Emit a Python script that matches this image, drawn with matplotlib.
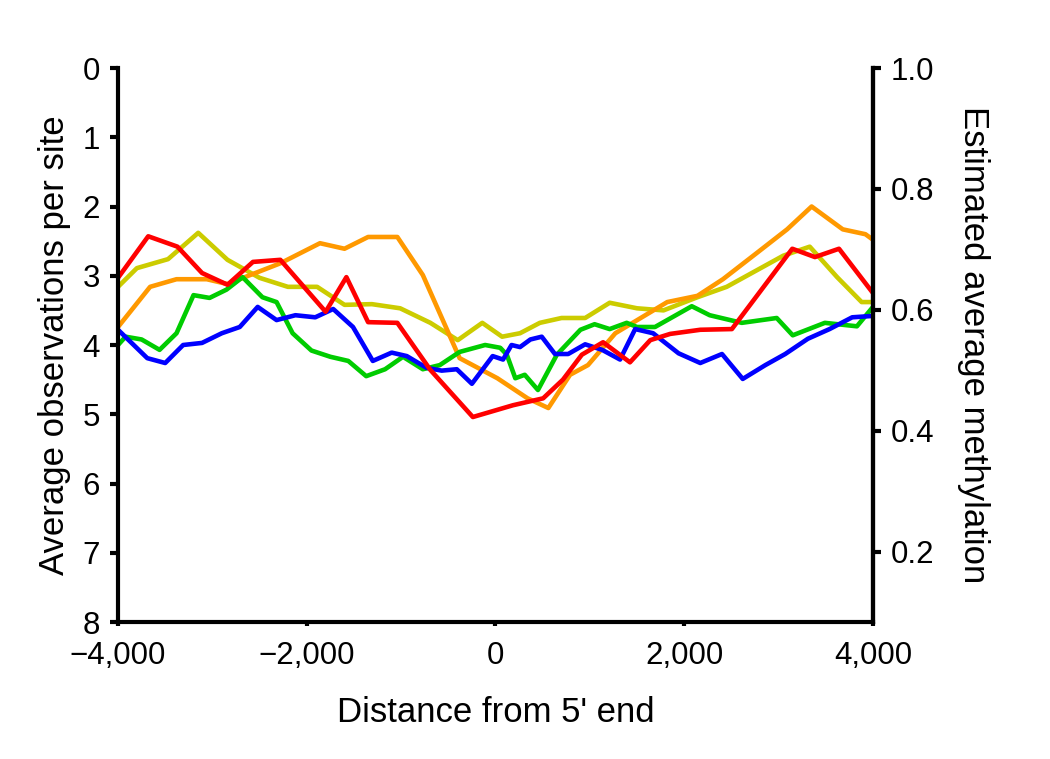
import matplotlib
matplotlib.use("Agg")
import matplotlib.pyplot as plt
from matplotlib.ticker import FuncFormatter

plt.rcParams["font.family"] = ["Liberation Sans", "DejaVu Sans"]
plt.rcParams["axes.unicode_minus"] = True

# distance from 5' end (bp) and average observations per site
red_x = [-4000, -3680, -3370, -3110, -2840, -2570, -2280, -1800, -1580, -1350, -1040, -690,
         -240, 185, 505, 715, 915, 1140, 1425, 1640, 1850, 2170, 2505, 3145, 3385, 3640, 4000]
red_y = [3.03, 2.43, 2.58, 2.96, 3.13, 2.80, 2.77, 3.52, 3.02, 3.67, 3.68, 4.36,
         5.04, 4.87, 4.77, 4.50, 4.14, 3.96, 4.25, 3.93, 3.84, 3.78, 3.77, 2.61, 2.73, 2.61, 3.25]

orange_x = [-4000, -3660, -3380, -3060, -2840, -2600, -2280, -1860, -1600, -1350, -1040, -770,
            -380, 20, 340, 560, 790, 980, 1270, 1820, 2140, 2410, 2770, 3090, 3350, 3680, 3920, 4000]
orange_y = [3.74, 3.16, 3.05, 3.05, 3.12, 2.99, 2.82, 2.53, 2.61, 2.44, 2.44, 2.99,
            4.19, 4.48, 4.77, 4.91, 4.43, 4.29, 3.83, 3.38, 3.29, 3.05, 2.67, 2.33, 2.00, 2.33, 2.40, 2.48]

yellow_x = [-4000, -3800, -3470, -3150, -2840, -2500, -2200, -1890, -1600, -1310, -1010, -690,
            -400, -140, 70, 260, 470, 700, 950, 1210, 1500, 1780, 2140, 2450, 2770, 3050, 3330,
            3620, 3880, 4000]
yellow_y = [3.16, 2.89, 2.76, 2.38, 2.77, 3.03, 3.16, 3.16, 3.42, 3.41, 3.47, 3.68,
            3.93, 3.68, 3.88, 3.83, 3.68, 3.61, 3.61, 3.39, 3.47, 3.50, 3.31, 3.16, 2.92, 2.71, 2.58,
            3.02, 3.38, 3.38]

green_x = [-4000, -3920, -3750, -3560, -3380, -3200, -3030, -2850, -2680, -2470, -2320, -2150,
           -1950, -1750, -1560, -1370, -1170, -980, -770, -590, -380, -110, 50, 120, 210, 310,
           450, 650, 900, 1050, 1210, 1390, 1500, 1690, 2080, 2270, 2610, 2980, 3150, 3490, 3830, 4000]
green_y = [4.00, 3.88, 3.92, 4.07, 3.83, 3.28, 3.32, 3.20, 3.02, 3.31, 3.38, 3.83,
           4.08, 4.17, 4.23, 4.45, 4.35, 4.17, 4.35, 4.29, 4.10, 4.00, 4.04, 4.14, 4.48, 4.43,
           4.65, 4.14, 3.78, 3.70, 3.77, 3.68, 3.74, 3.74, 3.44, 3.57, 3.68, 3.61, 3.86, 3.68, 3.73, 3.45]

blue_x = [-4000, -3690, -3500, -3310, -3110, -2900, -2710, -2520, -2320, -2120, -1910, -1720,
          -1510, -1300, -1100, -940, -730, -570, -410, -250, -30, 80, 170, 260, 370, 490, 630,
          770, 950, 1130, 1320, 1480, 1670, 1940, 2170, 2400, 2620, 2860, 3070, 3310, 3540, 3780, 4000]
blue_y = [3.78, 4.19, 4.26, 4.00, 3.97, 3.83, 3.74, 3.45, 3.64, 3.57, 3.60, 3.48,
          3.74, 4.23, 4.11, 4.16, 4.33, 4.37, 4.35, 4.56, 4.16, 4.21, 4.00, 4.03, 3.92, 3.88, 4.13,
          4.13, 3.99, 4.07, 4.21, 3.77, 3.83, 4.12, 4.26, 4.13, 4.49, 4.29, 4.13, 3.91, 3.77, 3.60, 3.58]

x_ticks = [-4000, -2000, 0, 2000, 4000]
left_ticks = [0, 1, 2, 3, 4, 5, 6, 7, 8]
right_ticks = [0.2, 0.4, 0.6, 0.8, 1.0]

fig = plt.figure(figsize=(10.5, 7.59), dpi=100)
ax = fig.add_axes([0.1124, 0.1805, 0.719, 0.7299])

lw = 3.3
ax.plot(yellow_x, yellow_y, color="#cccc00", lw=lw)
ax.plot(orange_x, orange_y, color="#ff9900", lw=lw)
ax.plot(green_x, green_y, color="#00cc00", lw=lw)
ax.plot(blue_x, blue_y, color="#0000ff", lw=lw)
ax.plot(red_x, red_y, color="#ff0000", lw=lw)

ax.set_xlim(-4000, 4000)
ax.set_ylim(8, 0)
ax.set_xticks(x_ticks)
ax.set_yticks(left_ticks)
ax.xaxis.set_major_formatter(FuncFormatter(lambda v, p: f"{int(v):,}".replace("-", "\u2212")))

ax.spines["top"].set_visible(False)
for s in ["left", "right", "bottom"]:
    ax.spines[s].set_linewidth(3.0)

ax.tick_params(axis="y", which="major", direction="out", length=6, width=3.0,
               labelsize=22.5, pad=7)
ax.tick_params(axis="x", which="major", direction="out", length=3, width=3.0,
               labelsize=22.5, pad=11)

ax2 = ax.twinx()
ax2.set_ylim(1.0 - 0.2 * 1407 / 307, 1.0)
ax2.set_yticks(right_ticks)
ax2.set_yticklabels([f"{t:.1f}" for t in right_ticks])
ax2.spines["top"].set_visible(False)
ax2.spines["left"].set_visible(False)
ax2.spines["bottom"].set_visible(False)
ax2.spines["right"].set_linewidth(3.0)
ax2.tick_params(axis="y", direction="out", length=6, width=3.0, labelsize=22.5, pad=7)

ax.set_xlabel("Distance from 5' end", fontsize=25, labelpad=18)
ax.set_ylabel("Average observations per site", fontsize=25, labelpad=8)
ax2.set_ylabel("Estimated average methylation", fontsize=25, rotation=270,
               labelpad=40)

fig.savefig("out.png", dpi=100)
